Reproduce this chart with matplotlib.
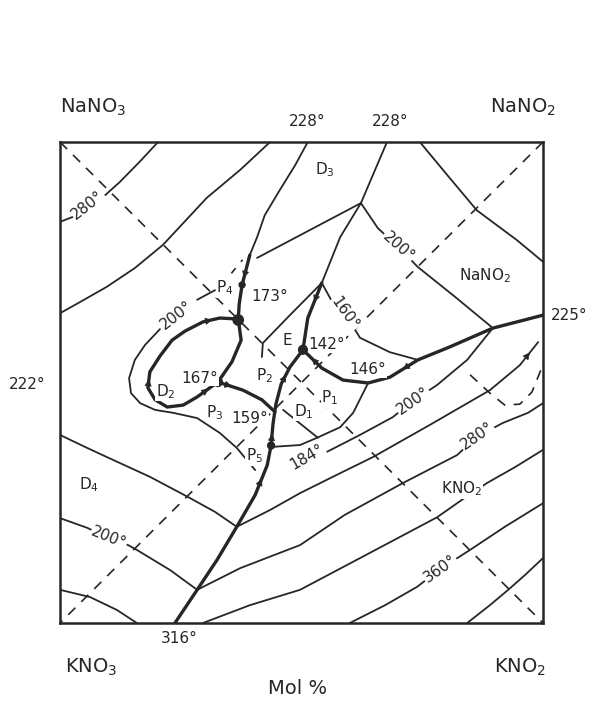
import matplotlib.pyplot as plt

# reciprocal system NaNO3-NaNO2-KNO3-KNO2, all curves in mol % (x: nitrite, y: sodium)
ink = '#262626'

# isotherms and boundary curves (x, y)
iso280_tl = ([20.3, 16.6, 12.4, 8.3, 4.1, 0], [100, 96.0, 91.7, 88.0, 85.0, 83.4])
curve_a = ([43.5, 37.3, 30.4, 21.3, 15.5, 9.7, 4.1, 0], [100, 94.2, 88.4, 78.6, 73.8, 69.9, 66.7, 64.4])
d3_thin = ([51.3, 48.7, 45.5, 42.4, 40.8, 39.3], [100, 95.2, 90.0, 84.8, 80.2, 76.5])
d3_thick = ([39.3, 38.5, 37.7, 37.1, 36.9], [76.5, 73.4, 70.3, 66.3, 63.0])
line_j1 = ([40.8, 62.3], [75.9, 87.3])
line_top = ([67.7, 62.3, 58.0, 54.2], [100, 87.3, 80.2, 70.7])
line_e142 = ([54.2, 51.3, 50.3], [70.7, 63.4, 56.8])
iso200_top = ([62.3, 65.8, 70.0, 74.1, 81.8, 89.4], [87.3, 82.1, 78.2, 74.0, 67.8, 61.5])
nano2_liq = ([74.5, 80.7, 86.3, 94.6, 100], [100, 92.5, 85.8, 79.6, 75.1])
curve_146 = ([50.3, 54.2, 58.6, 63.8, 68.3, 74.1, 80.7, 89.6, 100],
             [56.8, 53.0, 50.5, 49.9, 51.1, 54.7, 57.4, 61.3, 64.0])
curve_160 = ([54.2, 56.5, 59.0, 62.1, 68.3, 74.1], [70.7, 66.5, 64.4, 59.3, 56.3, 54.7])
line_e = ([54.2, 47.6, 42.0, 41.8], [70.7, 64.0, 58.2, 55.3])
main_bnd = ([50.3, 47.6, 45.8, 44.7, 44.1, 43.7, 42.9, 40.4, 36.6, 32.5, 28.4, 23.8],
            [56.8, 53.2, 49.7, 45.5, 41.4, 36.9, 32.8, 26.6, 20.0, 13.1, 6.9, 0])
d1_bnd = ([43.7, 49.7, 53.2, 58.0, 60.7, 63.8], [36.6, 37.0, 38.5, 40.7, 43.7, 49.9])
p3_line = ([32.7, 37.9, 41.8, 44.5], [50.1, 48.4, 46.4, 43.9])
d2_loop = ([36.9, 33.1, 29.6, 25.9, 23.2, 20.7, 18.6, 18.2, 19.7, 22.2, 25.5, 28.4, 32.7, 35.6, 37.5, 36.9],
           [63.2, 63.4, 62.6, 60.7, 58.8, 55.5, 52.2, 48.9, 46.4, 44.9, 45.3, 47.0, 50.1, 54.3, 58.8, 63.2])
iso200_loop = ([20.7, 17.6, 15.5, 14.3, 14.7, 16.6, 19.7, 23.4, 28.4, 33.1, 36.6, 40.4],
               [61.1, 57.8, 54.7, 50.9, 47.8, 45.7, 44.3, 43.7, 42.6, 39.5, 36.4, 31.8])
iso200_p4 = ([28.4, 32.1], [67.2, 69.2])
iso200_p4_dash = ([33.5, 37.8], [70.3, 75.5])
d1_seg = ([46.2, 53.4], [44.3, 38.5])
iso200_r = ([89.6, 84.3, 78.1, 73.1, 68.9, 62.1, 55.3], [61.3, 54.7, 49.5, 46.2, 42.8, 39.1, 35.6])
line_l1 = ([0, 5.2, 9.7, 18.6, 26.5, 32.1, 36.6], [39.1, 36.6, 34.5, 30.4, 26.2, 23.1, 20.0])
line_l2 = ([36.6, 43.5, 49.7, 56.9, 64.8, 76.6, 89.0, 95.2, 99.0],
           [20.0, 23.5, 27.0, 30.6, 34.5, 41.2, 48.4, 53.6, 58.4])
iso280_r = ([28.4, 37.3, 49.7, 59.0, 71.0, 82.2, 86.3, 91.7, 96.9, 100],
            [6.9, 11.4, 16.2, 22.5, 29.1, 34.9, 38.7, 41.6, 43.7, 45.7])
iso200_ll = ([0, 5.6, 10.1, 14.1, 15.9, 22.8, 28.4], [21.8, 19.8, 17.7, 16.2, 15.2, 11.0, 6.9])
line_l4 = ([29.6, 39.3, 49.7, 64.2, 78.1, 83.2, 88.4, 94.2, 100], [0, 3.7, 6.9, 14.6, 22.0, 25.6, 29.1, 32.4, 36.0])
iso360 = ([60.0, 67.3, 73.9, 78.7, 84.9, 92.1, 100], [0, 3.7, 7.5, 11.2, 15.2, 20.0, 24.9])
line_l6 = ([84.3, 89.0, 92.8, 96.3, 100], [0, 3.7, 6.9, 10.0, 13.5])
line_l7 = ([0, 6.2, 11.8, 15.9], [6.9, 5.4, 2.7, 0])
dash_j = ([84.9, 89.0, 92.1, 95.2, 97.7, 99.4, 100], [51.6, 47.8, 45.3, 45.5, 48.0, 52.2, 54.3])
diag_1 = ([0, 100], [100, 0])
diag_2 = ([100, 0], [100, 0])

# invariant points
dots_x = [36.9, 32.7, 50.3, 43.7, 37.7]
dots_y = [63.0, 50.1, 56.8, 36.9, 70.3]
dots_s = [55, 40, 40, 25, 18]

thin_curves = [iso280_tl, curve_a, d3_thin, line_j1, line_top, iso200_top, nano2_liq,
               curve_160, line_e, d1_bnd, iso200_loop, iso200_p4, d1_seg, iso200_r,
               line_l1, line_l2, iso280_r, iso200_ll, line_l4, iso360, line_l6, line_l7]
thick_curves = [d3_thick, line_e142, curve_146, main_bnd, p3_line, d2_loop]

# (curve, segment index, reverse)
arrows = [(d3_thick, 1, False), (d2_loop, 1, True), (d2_loop, 6, True), (d2_loop, 11, False),
          (p3_line, 0, False), (line_e142, 0, False), (main_bnd, 1, True), (main_bnd, 4, True),
          (main_bnd, 6, True), (curve_146, 0, True), (curve_146, 4, True), (line_l2, 7, False)]

# text labels: (text, x, y, rotation)
inner_labels = [
    ('D$_3$', 54.9, 94.2, 0), ('NaNO$_2$', 88.0, 72.3, 0), ('200°', 70.0, 78.2, -42),
    ('160°', 59.0, 64.4, -55), ('142°', 55.3, 57.8, 0), ('146°', 63.8, 52.6, 0),
    ('E', 47.0, 58.8, 0), ('P$_2$', 42.4, 51.4, 0), ('D$_1$', 50.5, 44.0, 0),
    ('P$_1$', 55.9, 46.8, 0), ('184°', 51.1, 34.6, 30), ('159°', 39.3, 42.6, 0),
    ('P$_3$', 32.1, 43.7, 0), ('P$_5$', 40.2, 34.7, 0), ('167°', 29.0, 50.9, 0),
    ('D$_2$', 21.9, 48.2, 0), ('P$_4$', 34.2, 69.7, 0), ('173°', 43.5, 67.8, 0),
    ('200°', 24.2, 64.0, 38), ('280°', 5.8, 86.9, 38), ('D$_4$', 6.0, 28.7, 0),
    ('200°', 10.1, 17.7, -22), ('200°', 73.1, 46.2, 35), ('280°', 86.3, 38.9, 35),
    ('KNO$_2$', 83.2, 27.9, 0), ('360°', 78.7, 11.2, 35)]
edge_labels = [('228°', 51.1, 104.2), ('228°', 68.3, 104.2), ('316°', 24.6, -3.3),
               ('222°', -6.8, 49.5), ('225°', 105.4, 64.0)]
corner_labels = [('NaNO$_3$', 6.8, 107.3), ('NaNO$_2$', 95.9, 107.3),
                 ('KNO$_3$', 6.4, -9.3), ('KNO$_2$', 95.2, -9.3), ('Mol %', 49.1, -13.7)]

fig = plt.figure(figsize=(5.95, 7.05), dpi=100)
ax = fig.add_axes([60 / 595, 82 / 705, 483 / 595, 481 / 705])
ax.set_xlim(0, 100)
ax.set_ylim(0, 100)
ax.set_xticks([])
ax.set_yticks([])
for sp in ax.spines.values():
    sp.set_linewidth(1.8)
    sp.set_color(ink)

for d in (diag_1, diag_2):
    ax.plot(d[0], d[1], color=ink, lw=1.2, dashes=(6, 5), zorder=1)
ax.plot(dash_j[0], dash_j[1], color=ink, lw=1.2, dashes=(6, 5), zorder=1)
ax.plot(iso200_p4_dash[0], iso200_p4_dash[1], color=ink, lw=1.2, dashes=(4, 5), zorder=1)

for c in thin_curves:
    ax.plot(c[0], c[1], color=ink, lw=1.3, zorder=2, solid_capstyle='round')
for c in thick_curves:
    ax.plot(c[0], c[1], color=ink, lw=2.4, zorder=3, solid_capstyle='round')

ax.scatter(dots_x, dots_y, s=dots_s, color=ink, zorder=5)

for c, i, rev in arrows:
    x0, y0, x1, y1 = c[0][i], c[1][i], c[0][i + 1], c[1][i + 1]
    xm, ym = (x0 + x1) / 2, (y0 + y1) / 2
    dx, dy = (x1 - x0) * 0.05, (y1 - y0) * 0.05
    if rev:
        dx, dy = -dx, -dy
    ax.annotate('', xy=(xm + dx, ym + dy), xytext=(xm - dx, ym - dy),
                arrowprops=dict(arrowstyle='-|>', color=ink, lw=0.5, mutation_scale=11,
                                shrinkA=0, shrinkB=0), zorder=6)

box = dict(facecolor='white', edgecolor='none', pad=0.6)
for t, x, y, r in inner_labels:
    ax.text(x, y, t, fontsize=11, color=ink, rotation=r, ha='center', va='center',
            rotation_mode='anchor', bbox=box, zorder=7)
for t, x, y in edge_labels:
    ax.text(x, y, t, fontsize=11, color=ink, ha='center', va='center', clip_on=False)
for t, x, y in corner_labels:
    ax.text(x, y, t, fontsize=14, color=ink, ha='center', va='center', clip_on=False)

fig.savefig('out.png', dpi=100, facecolor='white')
